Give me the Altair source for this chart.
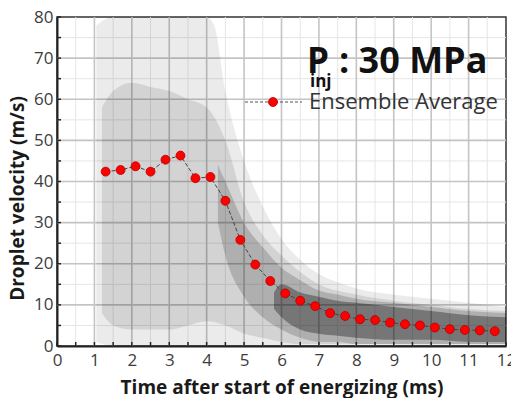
import altair as alt
import pandas as pd

# ---- ensemble average (red points) ----
avg_t = [1.3, 1.7, 2.1, 2.5, 2.9, 3.3, 3.7, 4.1, 4.5, 4.9, 5.3, 5.7, 6.1, 6.5,
         6.9, 7.3, 7.7, 8.1, 8.5, 8.9, 9.3, 9.7, 10.1, 10.5, 10.9, 11.3, 11.7]
avg_v = [42.4, 42.8, 43.7, 42.4, 45.3, 46.3, 40.8, 41.1, 35.3, 25.8, 19.8, 15.8, 12.8, 11.0,
         9.7, 8.0, 7.3, 6.5, 6.3, 5.7, 5.3, 5.0, 4.5, 4.1, 3.9, 3.8, 3.6]

# ---- droplet cloud, read as density envelopes ----
sparse_t = [1.05, 1.5, 2.0, 2.5, 3.0, 3.5, 4.0, 4.2, 4.5, 5.0, 5.5, 6.0, 6.5, 7.0, 7.5, 8.0, 9.0, 10.0, 11.0, 12.0]
sparse_lo = [1, 0, 0, 0, 0, 0, 0, 0, 0, 0, 0, 0, 0, 0, 0, 0, 0, 0, 0, 0]
sparse_hi = [78, 80, 80, 80, 80, 80, 80, 78, 62, 45, 34, 26, 21, 17.5, 15.5, 14, 12.5, 11.5, 10.5, 9.5]

medium_t = [1.2, 1.5, 2.0, 2.5, 3.0, 3.5, 4.0, 4.5, 5.0, 5.5, 6.0, 6.5, 7.0, 8.0, 9.0, 10.0, 11.0, 12.0]
medium_lo = [8, 5, 4, 4, 4, 5, 6, 5, 3, 2, 1, 0.5, 0.5, 0.5, 0.5, 0.5, 0.5, 0.5]
medium_hi = [58, 62, 64, 63, 62, 60, 58, 50, 35, 27, 22, 18, 15, 12.5, 11, 10, 9, 8.5]

dense_t = [4.3, 4.5, 5.0, 5.5, 6.0, 6.5, 7.0, 7.5, 8.0, 9.0, 10.0, 11.0, 12.0]
dense_lo = [30, 22, 12, 7, 4, 2, 1, 1, 0.5, 0.5, 0.5, 0.5, 0.5]
dense_hi = [44, 40, 30, 24, 19, 16, 13.5, 12.5, 11.5, 10.5, 9.5, 8.5, 8]

core_t = [5.8, 6.0, 6.5, 7.0, 7.5, 8.0, 9.0, 10.0, 11.0, 12.0]
core_lo = [9, 7, 4, 3, 2.5, 2, 1.5, 1.5, 1, 1]
core_hi = [13, 15, 13, 12, 11, 10.5, 9.5, 8.5, 7.5, 7]

# ---- axis ticks and grid ----
x_ticks = [0, 0.5, 1, 1.5, 2, 2.5, 3, 3.5, 4, 4.5, 5, 5.5, 6, 6.5, 7, 7.5, 8, 8.5,
           9, 9.5, 10, 10.5, 11, 11.5, 12]
y_ticks = [0, 5, 10, 15, 20, 25, 30, 35, 40, 45, 50, 55, 60, 65, 70, 75, 80]
x_major = [1, 2, 3, 4, 5, 6, 7, 8, 9, 10, 11]
x_minor = [0.5, 1.5, 2.5, 3.5, 4.5, 5.5, 6.5, 7.5, 8.5, 9.5, 10.5, 11.5]
y_major = [10, 20, 30, 40, 50, 60, 70]
y_minor = [5, 15, 25, 35, 45, 55, 65, 75]

W, H = 449, 329
FONT = "Open Sans"

x_scale = alt.Scale(domain=[0, 12], nice=False, zero=False)
y_scale = alt.Scale(domain=[0, 80], nice=False, zero=False)

x_axis = alt.Axis(
    values=x_ticks, labelExpr="datum.value % 1 === 0 ? format(datum.value, 'd') : ''",
    ticks=False, grid=False,
    domainColor="#222222", domainWidth=2,
    labelFont=FONT, labelFontSize=17, labelColor="#3c3c3c", labelPadding=6,
    labelOverlap=False, labelFlush=False,
    title="Time after start of energizing (ms)", titleFont=FONT, titleFontWeight="bold",
    titleFontSize=19, titleColor="#1a1a1a", titleY=47, titleBaseline="alphabetic",
)
y_axis = alt.Axis(
    values=y_ticks, labelExpr="datum.value % 10 === 0 ? format(datum.value, 'd') : ''",
    ticks=False, grid=False,
    domainColor="#222222", domainWidth=2,
    labelFont=FONT, labelFontSize=17, labelColor="#3c3c3c", labelPadding=4,
    labelOverlap=False, labelFlush=False,
    title="Droplet velocity (m/s)", titleFont=FONT, titleFontWeight="bold",
    titleFontSize=19, titleColor="#1a1a1a", titleAngle=270, titleX=-34, titleY=181,
    titleAlign="center", titleBaseline="alphabetic",
)


def X(f):
    return alt.X(f, type="quantitative", scale=x_scale, axis=x_axis)


def Y(f):
    return alt.Y(f, type="quantitative", scale=y_scale, axis=y_axis)


def vgrid(vals, color, width):
    return alt.Chart(pd.DataFrame({"t": vals})).mark_rule(color=color, strokeWidth=width).encode(
        x=X("t"), y=alt.value(0), y2=alt.value(H))


def hgrid(vals, color, width):
    return alt.Chart(pd.DataFrame({"v": vals})).mark_rule(color=color, strokeWidth=width).encode(
        y=Y("v"), x=alt.value(0), x2=alt.value(W))


def band(ts, lo, hi, op):
    df = pd.DataFrame({"t": ts, "lo": lo, "hi": hi})
    return alt.Chart(df).mark_area(color="black", opacity=op, interpolate="monotone").encode(
        x=X("t"), y=Y("lo"), y2=alt.Y2("hi"))


layers = [
    vgrid(x_minor, "#e6e6e6", 1),
    hgrid(y_minor, "#e6e6e6", 1),
    vgrid(x_major, "#c4c4c4", 1.6),
    hgrid(y_major, "#c4c4c4", 1.6),
    band(sparse_t, sparse_lo, sparse_hi, 0.08),
    band(medium_t, medium_lo, medium_hi, 0.10),
    band(dense_t, dense_lo, dense_hi, 0.17),
    band(core_t, core_lo, core_hi, 0.32),
]

avg_df = pd.DataFrame({"t": avg_t, "v": avg_v})
layers.append(alt.Chart(avg_df).mark_line(color="#444444", strokeWidth=1, strokeDash=[4, 2]).encode(
    x=X("t"), y=Y("v")))
layers.append(alt.Chart(avg_df).mark_point(filled=True, shape="circle", size=80, color="#ff0000",
                                           stroke="#b00000", strokeWidth=0.8, opacity=1).encode(
    x=X("t"), y=Y("v")))

# inward axis ticks
xt_df = pd.DataFrame({"t": x_ticks})
yt_df = pd.DataFrame({"v": y_ticks})
layers.append(alt.Chart(xt_df).mark_rule(color="#222222", strokeWidth=1.5).encode(
    x=X("t"), y=alt.value(H), y2=alt.value(H - 4)))
layers.append(alt.Chart(yt_df).mark_rule(color="#222222", strokeWidth=1.5).encode(
    y=Y("v"), x=alt.value(0), x2=alt.value(4)))

# annotation
one = pd.DataFrame({"a": [0]})
layers.append(alt.Chart(one).mark_text(text="P", font=FONT, fontWeight="bold", fontSize=35,
                                       color="#111111", align="left", baseline="alphabetic").encode(
    x=alt.value(250), y=alt.value(56)))
layers.append(alt.Chart(one).mark_text(text="inj", font=FONT, fontWeight="bold", fontSize=17,
                                       color="#111111", align="left", baseline="alphabetic").encode(
    x=alt.value(253), y=alt.value(70)))
layers.append(alt.Chart(one).mark_text(text=": 30 MPa", font=FONT, fontWeight="bold", fontSize=36,
                                       color="#111111", align="left", baseline="alphabetic").encode(
    x=alt.value(282), y=alt.value(56)))
# legend
layers.append(alt.Chart(one).mark_rule(color="#555555", strokeWidth=1.2, strokeDash=[3, 2]).encode(
    x=alt.value(188), x2=alt.value(245), y=alt.value(85)))
layers.append(alt.Chart(one).mark_point(filled=True, shape="circle", size=80, color="#ff0000",
                                        stroke="#b00000", strokeWidth=0.8, opacity=1).encode(
    x=alt.value(216), y=alt.value(85)))
layers.append(alt.Chart(one).mark_text(text="Ensemble Average", font=FONT, fontSize=22,
                                       color="#333333", align="left", baseline="alphabetic").encode(
    x=alt.value(252), y=alt.value(92)))

chart = alt.layer(*layers).properties(
    width=W, height=H,
    autosize=alt.AutoSizeParams(type="none"),
    padding={"left": 57, "top": 17, "right": 5, "bottom": 52},
    background="white",
).configure_view(stroke="#333333", strokeWidth=1.5)

chart.save("out.html", embed_options={"renderer": "svg", "actions": False})
